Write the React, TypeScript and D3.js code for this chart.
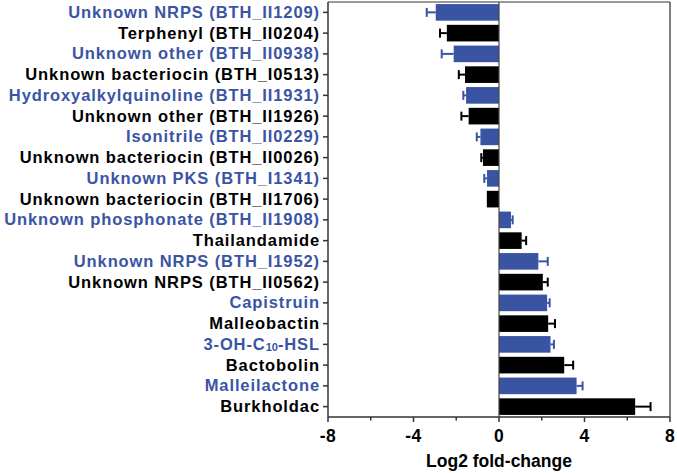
import React from "react";
import * as d3 from "d3";

const labels: string[] = [
  "Unknown NRPS (BTH_II1209)",
  "Terphenyl (BTH_II0204)",
  "Unknown other (BTH_II0938)",
  "Unknown bacteriocin (BTH_I0513)",
  "Hydroxyalkylquinoline (BTH_II1931)",
  "Unknown other (BTH_II1926)",
  "Isonitrile (BTH_II0229)",
  "Unknown bacteriocin (BTH_II0026)",
  "Unknown PKS (BTH_I1341)",
  "Unknown bacteriocin (BTH_II1706)",
  "Unknown phosphonate (BTH_II1908)",
  "Thailandamide",
  "Unknown NRPS (BTH_I1952)",
  "Unknown NRPS (BTH_II0562)",
  "Capistruin",
  "Malleobactin",
  "3-OH-C10-HSL",
  "Bactobolin",
  "Malleilactone",
  "Burkholdac",
];
const values: number[] = [
  -2.96, -2.44, -2.12, -1.59, -1.54, -1.42, -0.87, -0.75, -0.56, -0.57,
  0.56, 1.06, 1.84, 2.05, 2.25, 2.3, 2.41, 3.05, 3.63, 6.37,
];
const errors: number[] = [
  0.42, 0.32, 0.56, 0.29, 0.13, 0.34, 0.17, 0.08, 0.13, 0.0,
  0.08, 0.21, 0.44, 0.23, 0.12, 0.32, 0.16, 0.42, 0.28, 0.72,
];
const xTicks: number[] = [-8, -4, 0, 4, 8];
const xMinorTicks: number[] = [-6, -2, 2, 6];

const BLUE = "#3a54a4";
const BLACK = "#000000";
const FONT = "'Liberation Sans', Arial, sans-serif";

export default function App() {
  const W = 677, H = 473;
  const left = 328, right = 670, top = 2, bottom = 417;
  const x = d3.scaleLinear().domain([-8, 8]).range([left, right]);
  const y = d3
    .scaleBand<string>()
    .domain(labels)
    .range([top, bottom])
    .paddingInner(0.2)
    .paddingOuter(0.1);
  const bw = y.bandwidth();
  const axisColor = "#333";

  const renderLabel = (l: string) => {
    if (l === "3-OH-C10-HSL") {
      return (
        <>
          3-OH-C
          <tspan fontSize={11} dy={1} letterSpacing={0}>10</tspan>
          <tspan dy={-1}>-HSL</tspan>
        </>
      );
    }
    return l;
  };

  return (
    <svg width={W} height={H} style={{ position: "absolute", left: 0, top: 0 }}>
      <rect x={0} y={0} width={W} height={H} fill="#fff" />
      {/* frame */}
      <line x1={left} x2={right} y1={top} y2={top} stroke="#777" strokeWidth={1.5} />
      <line x1={right} x2={right} y1={top} y2={bottom} stroke="#555" strokeWidth={1.5} />
      {/* bars */}
      {labels.map((l, i) => {
        const v = values[i];
        const c = i % 2 === 0 ? BLUE : BLACK;
        const y0 = y(l)!;
        const x0 = x(0);
        const xv = x(v);
        const xe = x(v + Math.sign(v) * errors[i]);
        const cy = y0 + bw / 2;
        return (
          <g key={l}>
            <rect x={Math.min(x0, xv)} y={y0} width={Math.abs(xv - x0)} height={bw} fill={c} />
            {errors[i] > 0 && (
              <>
                <line x1={xv} x2={xe} y1={cy} y2={cy} stroke={c} strokeWidth={2} />
                <line x1={xe} x2={xe} y1={cy - 4.5} y2={cy + 4.5} stroke={c} strokeWidth={2} />
              </>
            )}
          </g>
        );
      })}
      {/* zero line */}
      <line x1={x(0)} x2={x(0)} y1={top} y2={bottom} stroke="#444" strokeWidth={1.2} />
      {/* y axis */}
      <line x1={left} x2={left} y1={top} y2={bottom} stroke={axisColor} strokeWidth={1.5} />
      {labels.map((l, i) => {
        const cy = y(l)! + bw / 2;
        return (
          <g key={"yl" + l}>
            <line x1={left - 5} x2={left} y1={cy} y2={cy} stroke={axisColor} strokeWidth={1.5} />
            <text
              x={left - 8}
              y={cy}
              dy="0.33em"
              textAnchor="end"
              fontFamily={FONT}
              fontWeight="bold"
              fontSize={16.5}
              letterSpacing={0.9}
              fill={i % 2 === 0 ? BLUE : BLACK}
            >
              {renderLabel(l)}
            </text>
          </g>
        );
      })}
      {/* x axis */}
      <line x1={left} x2={right} y1={bottom} y2={bottom} stroke={axisColor} strokeWidth={1.5} />
      {xTicks.map((t) => (
        <g key={"xt" + t}>
          <line x1={x(t)} x2={x(t)} y1={bottom} y2={bottom + 5} stroke={axisColor} strokeWidth={1.5} />
          <text
            x={x(t)}
            y={bottom + 25}
            textAnchor="middle"
            fontFamily={FONT}
            fontWeight="bold"
            fontSize={17.5}
            letterSpacing={0.5}
            fill="#000"
          >
            {t}
          </text>
        </g>
      ))}
      {xMinorTicks.map((t) => (
        <line key={"xm" + t} x1={x(t)} x2={x(t)} y1={bottom} y2={bottom + 3.5} stroke={axisColor} strokeWidth={1.5} />
      ))}
      <text
        x={x(0)}
        y={bottom + 50}
        textAnchor="middle"
        fontFamily={FONT}
        fontWeight="bold"
        fontSize={17.5}
        fill="#000"
      >
        Log2 fold-change
      </text>
    </svg>
  );
}
